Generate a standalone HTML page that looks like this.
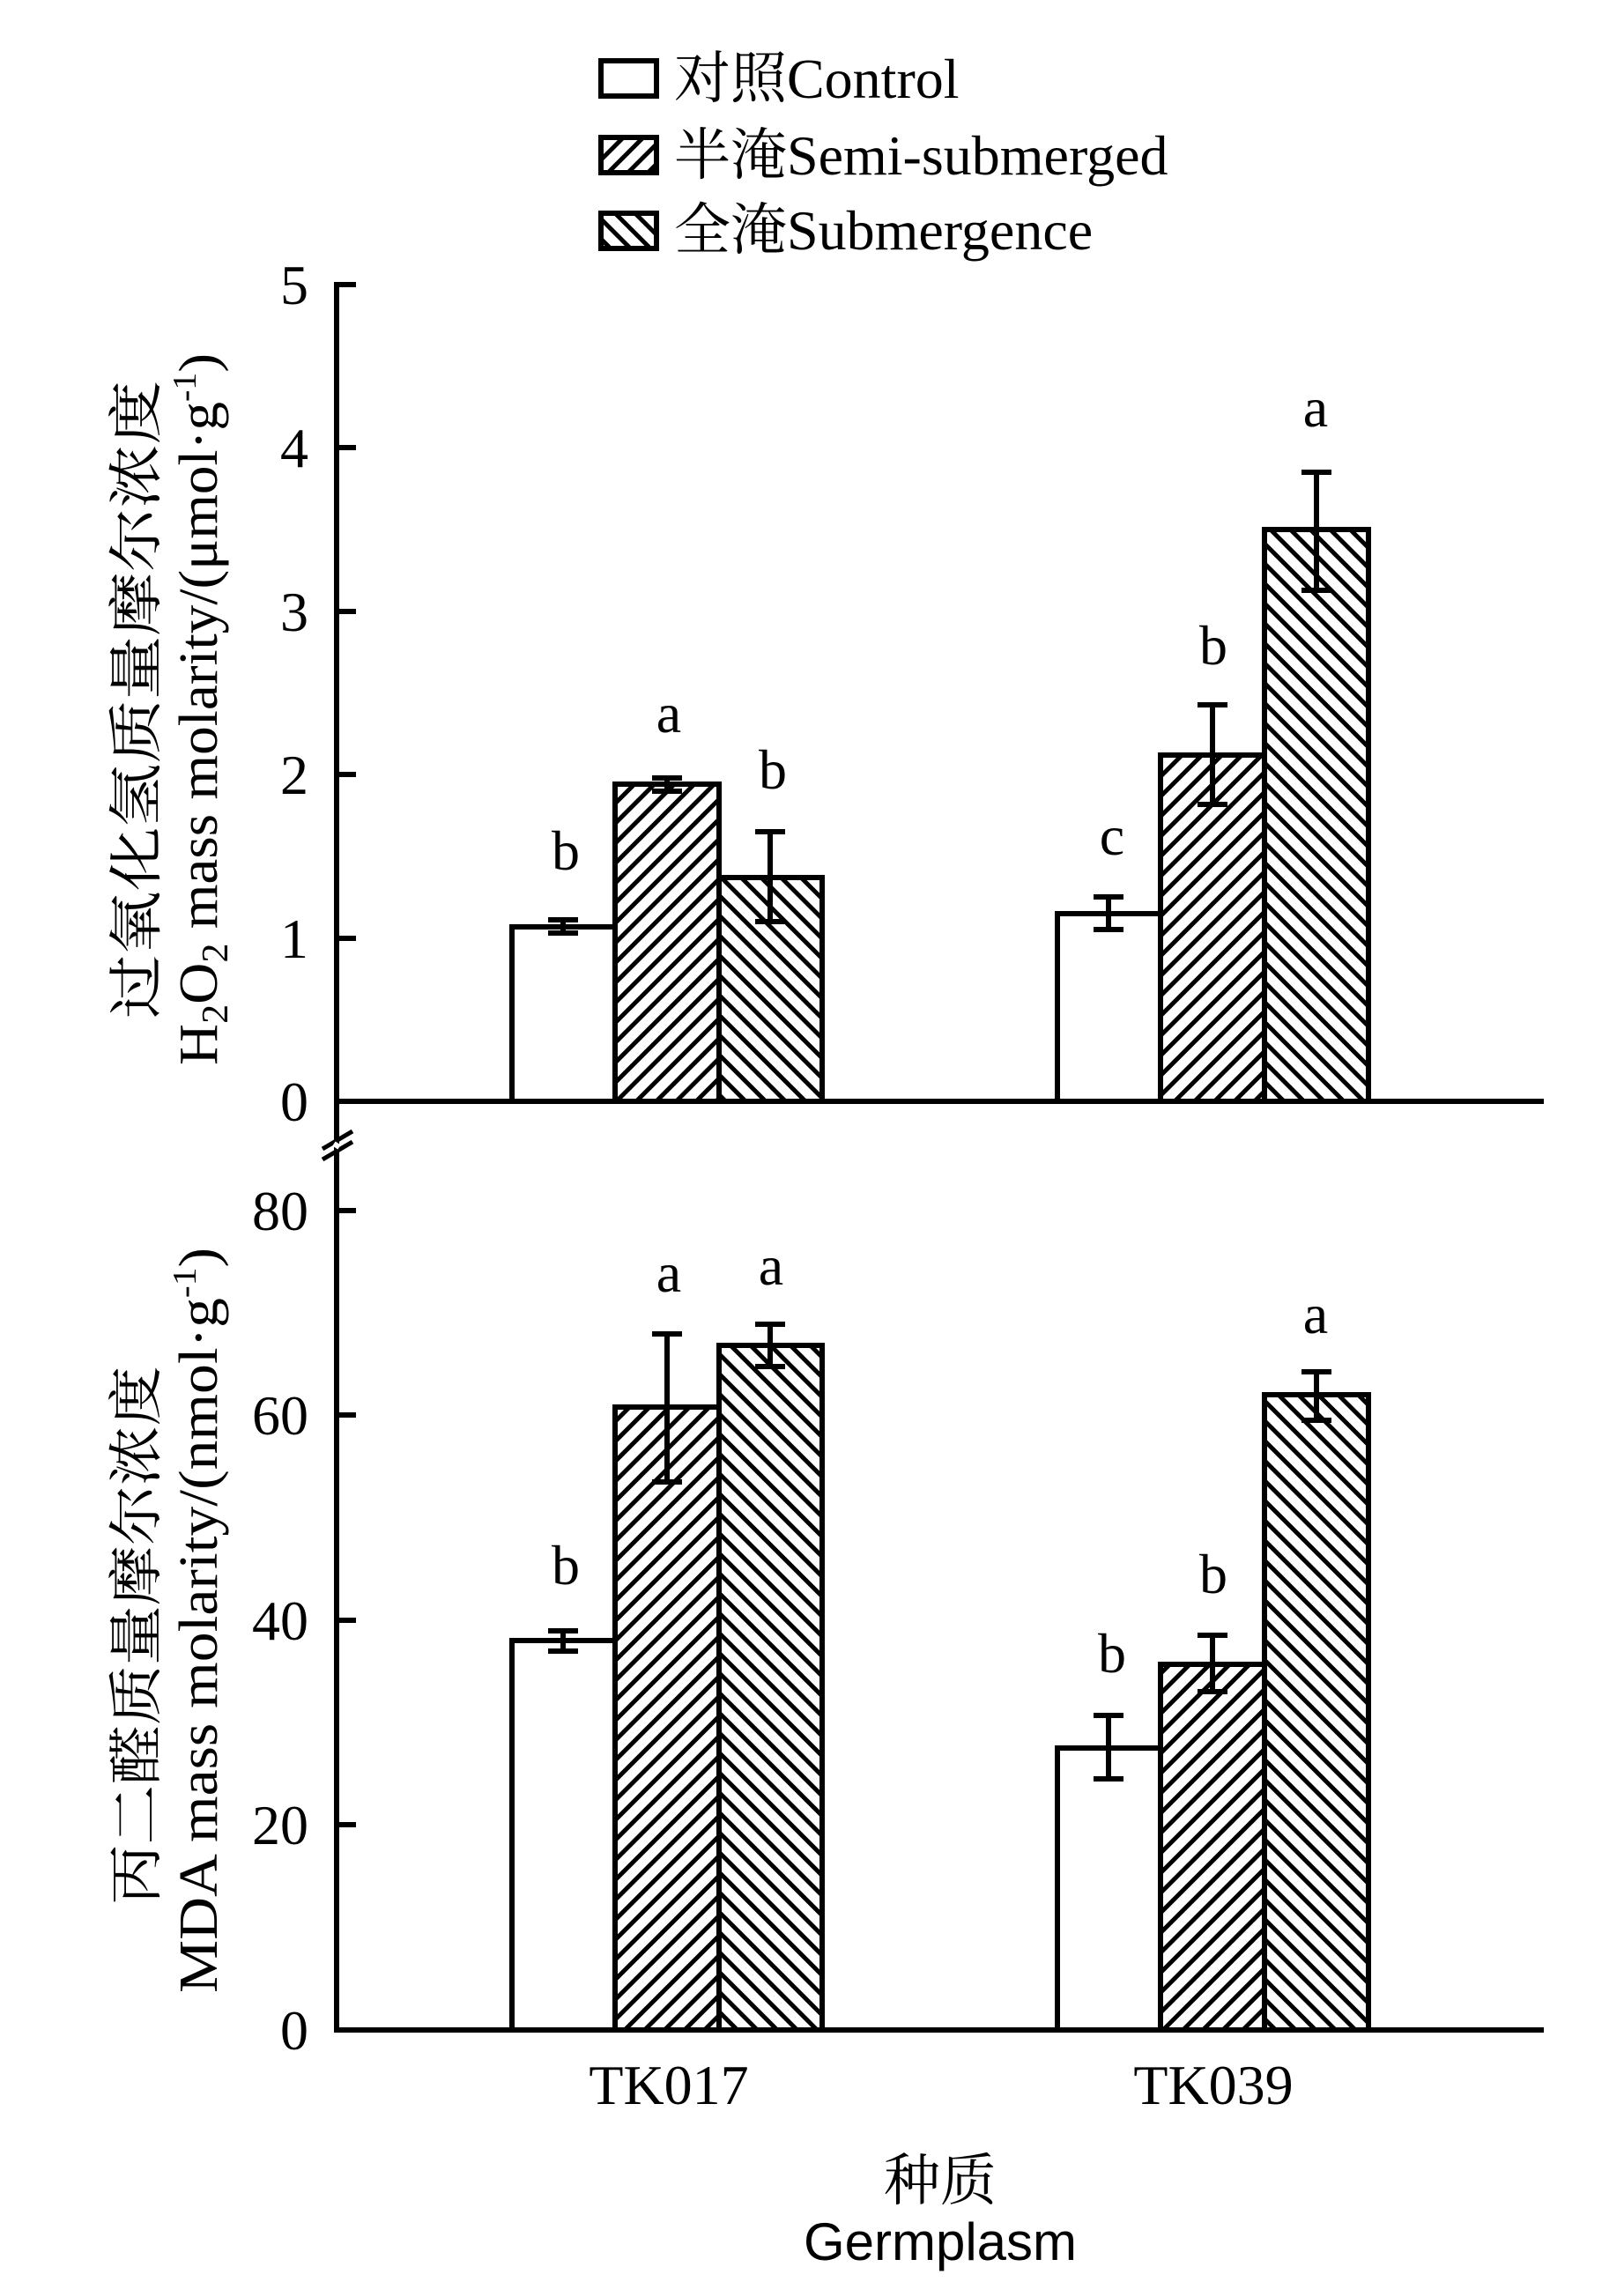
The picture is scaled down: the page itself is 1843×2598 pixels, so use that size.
<!DOCTYPE html>
<html><head><meta charset="utf-8"><style>body{margin:0;background:#fff}svg{display:block}</style></head>
<body>
<svg width="1843" height="2598" viewBox="0 0 1843 2598" xmlns="http://www.w3.org/2000/svg" font-family="'Liberation Serif','Noto Serif CJK SC',serif">
<defs>
<pattern id="fw" patternUnits="userSpaceOnUse" width="16" height="16" patternTransform="rotate(45)">
<rect width="16" height="16" fill="#fff"/><rect x="0" y="0" width="5" height="16" fill="#000"/></pattern>
<pattern id="bw" patternUnits="userSpaceOnUse" width="16" height="16" patternTransform="rotate(-45)">
<rect width="16" height="16" fill="#fff"/><rect x="0" y="0" width="5" height="16" fill="#000"/></pattern>
</defs>
<rect width="1843" height="2598" fill="#fff"/>
<!-- legend -->
<g stroke="#000" stroke-width="6">
<rect x="682" y="69" width="63" height="40" fill="#fff"/>
<rect x="682" y="156" width="63" height="40" fill="url(#fw)"/>
<rect x="682" y="242" width="63" height="40" fill="url(#bw)"/>
</g>
<g font-size="64" fill="#000">
<text x="765" y="111">对照Control</text>
<text x="765" y="198">半淹Semi-submerged</text>
<text x="765" y="283">全淹Submergence</text>
</g>
<!-- axes -->
<g stroke="#000" stroke-width="6" fill="none">
<line x1="382" y1="320" x2="382" y2="2307"/>
<line x1="379" y1="1250" x2="1752" y2="1250"/>
<line x1="379" y1="2304" x2="1752" y2="2304"/>
<line x1="382" y1="323" x2="404" y2="323"/><line x1="382" y1="508" x2="404" y2="508"/>
<line x1="382" y1="694" x2="404" y2="694"/><line x1="382" y1="879" x2="404" y2="879"/>
<line x1="382" y1="1065" x2="404" y2="1065"/>
<line x1="382" y1="1374" x2="404" y2="1374"/><line x1="382" y1="1606" x2="404" y2="1606"/>
<line x1="382" y1="1839" x2="404" y2="1839"/><line x1="382" y1="2071" x2="404" y2="2071"/>
</g>
<g stroke="#000" stroke-width="5">
<line x1="366" y1="1304" x2="400" y2="1284"/><line x1="366" y1="1316" x2="400" y2="1296"/>
</g>
<line x1="379" y1="1298" x2="385" y2="1302" stroke="#fff" stroke-width="6"/>
<!-- tick labels -->
<g font-size="64" text-anchor="end" fill="#000">
<text x="350" y="345">5</text><text x="350" y="530">4</text><text x="350" y="716">3</text>
<text x="350" y="901">2</text><text x="350" y="1087">1</text><text x="350" y="1272">0</text>
<text x="350" y="1396">80</text><text x="350" y="1628">60</text><text x="350" y="1861">40</text>
<text x="350" y="2093">20</text><text x="350" y="2326">0</text>
</g>
<!-- top bars -->
<g stroke="#000" stroke-width="6">
<rect x="581" y="1052" width="117" height="198" fill="#fff"/>
<rect x="698" y="890" width="118" height="360" fill="url(#fw)"/>
<rect x="816" y="996" width="117" height="254" fill="url(#bw)"/>
<rect x="1200" y="1037" width="117" height="213" fill="#fff"/>
<rect x="1317" y="857" width="118" height="393" fill="url(#fw)"/>
<rect x="1435" y="601" width="118" height="649" fill="url(#bw)"/>
<!-- bottom bars -->
<rect x="581" y="1862" width="117" height="442" fill="#fff"/>
<rect x="698" y="1597" width="118" height="707" fill="url(#fw)"/>
<rect x="816" y="1527" width="117" height="777" fill="url(#bw)"/>
<rect x="1200" y="1984" width="117" height="320" fill="#fff"/>
<rect x="1317" y="1889" width="118" height="415" fill="url(#fw)"/>
<rect x="1435" y="1583" width="118" height="721" fill="url(#bw)"/>
</g>
<!-- error bars -->
<g stroke="#000" stroke-width="6" fill="none">
<path d="M639 1059V1044M622 1059H656M622 1044H656"/>
<path d="M757 898V883M740 898H774M740 883H774"/>
<path d="M874 1046V944M857 1046H891M857 944H891"/>
<path d="M1258 1055V1018M1241 1055H1275M1241 1018H1275"/>
<path d="M1376 913V800M1359 913H1393M1359 800H1393"/>
<path d="M1494 670V536M1477 670H1511M1477 536H1511"/>
<path d="M639 1874V1851M622 1874H656M622 1851H656"/>
<path d="M757 1682V1514M740 1682H774M740 1514H774"/>
<path d="M874 1551V1503M857 1551H891M857 1503H891"/>
<path d="M1258 2019V1947M1241 2019H1275M1241 1947H1275"/>
<path d="M1376 1920V1856M1359 1920H1393M1359 1856H1393"/>
<path d="M1494 1612V1557M1477 1612H1511M1477 1557H1511"/>
</g>
<!-- letters -->
<g font-size="64" text-anchor="middle" fill="#000">
<text x="642" y="987">b</text><text x="759" y="831">a</text><text x="877" y="895">b</text>
<text x="1262" y="970">c</text><text x="1377" y="754">b</text><text x="1493" y="484">a</text>
<text x="642" y="1798">b</text><text x="759" y="1466">a</text><text x="875" y="1458">a</text>
<text x="1262" y="1898">b</text><text x="1377" y="1808">b</text><text x="1493" y="1513">a</text>
</g>
<!-- x labels -->
<g font-size="64" text-anchor="middle" fill="#000">
<text x="759" y="2388">TK017</text><text x="1377" y="2388">TK039</text>
<text x="1067" y="2497">种质</text>
<text x="1067" y="2565" font-family="'Liberation Sans',sans-serif" font-size="60">Germplasm</text>
</g>
<!-- y labels -->
<g font-size="62" text-anchor="middle" fill="#000">
<text transform="translate(176,794) rotate(-90)" textLength="724" lengthAdjust="spacingAndGlyphs">过氧化氢质量摩尔浓度</text>
<text transform="translate(246,805) rotate(-90)" textLength="808" lengthAdjust="spacingAndGlyphs">H<tspan font-size="42" dy="12">2</tspan><tspan dy="-12">O</tspan><tspan font-size="42" dy="12">2</tspan><tspan dy="-12"> mass molarity/(μmol·g</tspan><tspan font-size="38" dy="-24">-1</tspan><tspan dy="24">)</tspan></text>
<text transform="translate(176,1856) rotate(-90)" textLength="611" lengthAdjust="spacingAndGlyphs">丙二醛质量摩尔浓度</text>
<text transform="translate(246,1839) rotate(-90)" textLength="846" lengthAdjust="spacingAndGlyphs">MDA mass molarity/(nmol·g<tspan font-size="38" dy="-24">-1</tspan><tspan dy="24">)</tspan></text>
</g>
</svg>
</body></html>
